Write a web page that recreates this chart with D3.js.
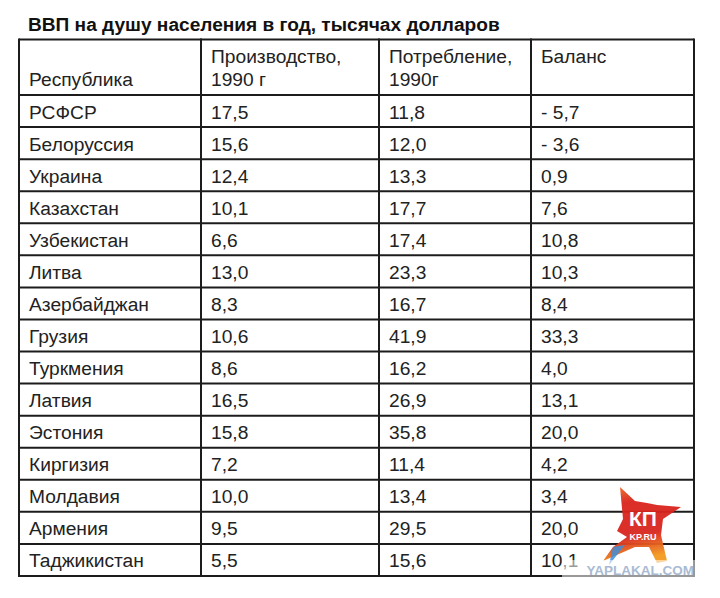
<!DOCTYPE html>
<html>
<head>
<meta charset="utf-8">
<script src="https://cdn.jsdelivr.net/npm/d3@7"></script>
<style>
  body { margin: 0; background: #fff; }
  svg { display: block; font-family: "Liberation Sans", Arial, sans-serif; }
</style>
</head>
<body>
<svg id="table" width="720" height="598"></svg>
<script>
// Data
const republics = ['РСФСР', 'Белоруссия', 'Украина', 'Казахстан', 'Узбекистан', 'Литва',
  'Азербайджан', 'Грузия', 'Туркмения', 'Латвия', 'Эстония', 'Киргизия', 'Молдавия',
  'Армения', 'Таджикистан'];
const production = [17.5, 15.6, 12.4, 10.1, 6.6, 13.0, 8.3, 10.6, 8.6, 16.5, 15.8, 7.2, 10.0, 9.5, 5.5];
const consumption = [11.8, 12.0, 13.3, 17.7, 17.4, 23.3, 16.7, 41.9, 16.2, 26.9, 35.8, 11.4, 13.4, 29.5, 15.6];
const balance = [-5.7, -3.6, 0.9, 7.6, 10.8, 10.3, 8.4, 33.3, 4.0, 13.1, 20.0, 4.2, 3.4, 20.0, 10.1];
const headers = [['', 'Республика'], ['Производство,', '1990 г'], ['Потребление,', '1990г'], ['Баланс', '']];
const title = 'ВВП на душу населения в год, тысячах долларов';

// Layout
const colEdges = [19, 201, 379, 531, 694];
const headTop = 39.5, bodyTop = 95, bodyBottom = 576;
const ink = '#1c1c1c';
const fontSize = 19.2;

const svg = d3.select('#table');

const y = d3.scaleBand()
  .domain(republics)
  .range([bodyTop, bodyBottom]);

const fmt = v => (v < 0 ? '- ' : '') + d3.format('.1f')(Math.abs(v)).replace('.', ',');

// Title
svg.append('text')
  .attr('x', 28)
  .attr('y', 31)
  .attr('font-size', 19.1)
  .attr('font-weight', 'bold')
  .attr('fill', '#111')
  .text(title);

// Header text
headers.forEach((h, i) => {
  h.forEach((line, j) => {
    if (!line) return;
    svg.append('text')
      .attr('x', colEdges[i] + 10)
      .attr('y', 63 + j * 23)
      .attr('font-size', fontSize)
      .attr('fill', '#222')
      .text(line);
  });
});

// Body cells
const rows = republics.map((r, i) => [r, fmt(production[i]), fmt(consumption[i]), fmt(balance[i])]);

rows.forEach((cells, i) => {
  cells.forEach((c, j) => {
    svg.append('text')
      .attr('x', colEdges[j] + 10)
      .attr('y', y(republics[i]) + 23.5)
      .attr('font-size', fontSize)
      .attr('fill', '#222')
      .text(c);
  });
});

// Grid lines
const grid = svg.append('g').attr('stroke', ink).attr('stroke-width', 2);

const hLines = [headTop, bodyTop].concat(republics.map(r => y(r) + y.bandwidth()));
grid.selectAll('.h').data(hLines).enter().append('line')
  .attr('x1', colEdges[0]).attr('x2', colEdges[colEdges.length - 1])
  .attr('y1', d => d).attr('y2', d => d);

grid.selectAll('.v').data(colEdges).enter().append('line')
  .attr('x1', d => d).attr('x2', d => d)
  .attr('y1', headTop - 1).attr('y2', bodyBottom + 1);

// Watermarks
const grad = svg.append('defs').append('linearGradient')
  .attr('id', 'kp').attr('x1', '0').attr('y1', '0').attr('x2', '0.2').attr('y2', '1');
grad.append('stop').attr('offset', '0%').attr('stop-color', '#f07a24');
grad.append('stop').attr('offset', '25%').attr('stop-color', '#d9231c');
grad.append('stop').attr('offset', '70%').attr('stop-color', '#d8261f');
grad.append('stop').attr('offset', '100%').attr('stop-color', '#f39a1e');

const logo = svg.append('g').attr('transform', 'translate(643,525)');
logo.append('path')
  .attr('d', 'M-23,-38 L-8,-24 L4,-22 L14,-20 L38,-18 L20,-6 L18,10 L24,36 L14,38 L6,22 L-8,22 L-40,36 L-30,22 L-16,12 L-26,6 L-20,-6 Z')
  .attr('fill', 'url(#kp)')
  .attr('opacity', 0.95);
logo.append('path')
  .attr('d', 'M-30,22 L-18,20 L-34,40 Z')
  .attr('fill', '#3f8fd8')
  .attr('opacity', 0.85);
logo.append('text')
  .attr('x', 0).attr('y', 1)
  .attr('text-anchor', 'middle')
  .attr('font-size', 21).attr('font-weight', 'bold')
  .attr('fill', '#fff')
  .text('КП');
logo.append('text')
  .attr('x', 0).attr('y', 15)
  .attr('text-anchor', 'middle')
  .attr('font-size', 9).attr('font-weight', 'bold')
  .attr('fill', '#fff')
  .text('KP.RU');

svg.append('rect')
  .attr('x', 562).attr('y', 560).attr('width', 133).attr('height', 17)
  .attr('fill', '#fff').attr('opacity', 0.55);
svg.append('text')
  .attr('x', 694).attr('y', 575)
  .attr('text-anchor', 'end')
  .attr('font-size', 13.5).attr('font-weight', 'bold')
  .attr('fill', '#9fb4cf')
  .attr('opacity', 0.9)
  .text('YAPLAKAL.COM');
</script>
</body>
</html>
